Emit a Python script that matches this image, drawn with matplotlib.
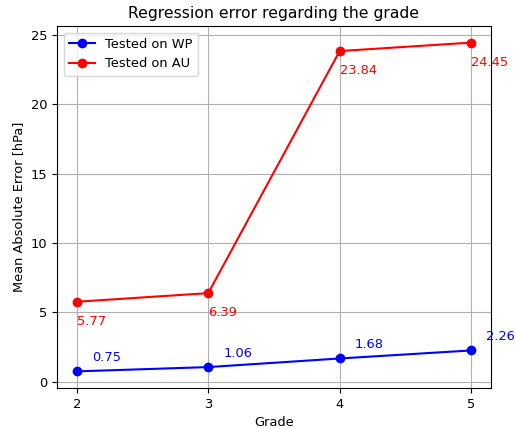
import numpy as np
import matplotlib.pyplot as plt

grades = [2, 3, 4, 5]
wp_error = [0.75, 1.06, 1.68, 2.26]
au_error = [5.77, 6.39, 23.84, 24.45]

plt.rcParams['font.size'] = 9.4

fig, ax = plt.subplots(figsize=(5.15, 4.29), dpi=100)
ax.plot(grades, wp_error, 'bo-', label='Tested on WP')
ax.plot(grades, au_error, 'ro-', label='Tested on AU')

# value labels
for g, v in zip(grades, wp_error):
    ax.annotate(f'{v:.2f}', (g, v), xytext=(11, 10), textcoords='offset points',
                color='b', ha='left', va='center')
for g, v in zip(grades, au_error):
    ax.annotate(f'{v:.2f}', (g, v), xytext=(0, -14), textcoords='offset points',
                color='r', ha='left', va='center')

ax.set_xticks(grades)
ax.set_xlabel('Grade')
ax.set_ylabel('Mean Absolute Error [hPa]')
ax.set_title('Regression error regarding the grade')
ax.grid(True)
ax.legend(loc='upper left')
plt.subplots_adjust(left=0.111, right=0.953, top=0.939, bottom=0.096)
plt.savefig('out.png')
